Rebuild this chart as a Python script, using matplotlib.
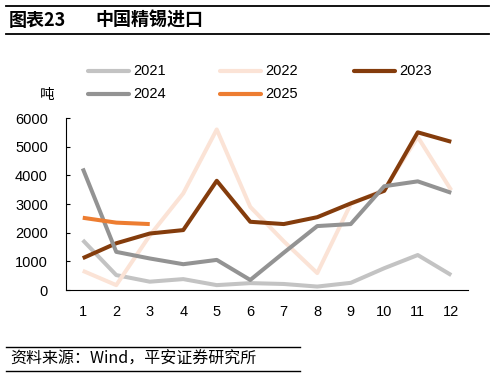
import numpy as np
import matplotlib
matplotlib.use('Agg')
import matplotlib.pyplot as plt
from matplotlib.lines import Line2D

plt.rcParams['font.family'] = ['Liberation Sans', 'Noto Sans CJK SC', 'DejaVu Sans']
cjk = ['Noto Sans CJK SC', 'DejaVu Sans']

months = np.arange(1, 13)
y2021 = [1740, 520, 290, 380, 170, 240, 210, 120, 250, 760, 1220, 520]
y2022 = [670, 170, 1900, 3370, 5600, 2900, 1700, 590, 3000, 3500, 5340, 3480]
y2023 = [1110, 1630, 1970, 2090, 3810, 2380, 2300, 2540, 3020, 3460, 5500, 5170]
y2024 = [4240, 1330, 1100, 900, 1050, 350, 1300, 2230, 2300, 3620, 3790, 3390]
y2025 = [2520, 2350, 2300]

series = [
    ('2021', y2021, '#C3C3C3'),
    ('2022', y2022, '#FBE3D6'),
    ('2023', y2023, '#843C0C'),
    ('2024', y2024, '#939393'),
    ('2025', y2025, '#ED7D31'),
]

fig = plt.figure(figsize=(4.95, 3.77), dpi=100)
ax = fig.add_axes([66/495, 1-290/377, (468-66)/495, (290-118)/377])

for name, vals, col in series:
    ax.plot(months[:len(vals)], vals, color=col, lw=2.9, solid_capstyle='butt')

ax.set_xlim(0.5, 12.5)
ax.set_ylim(0, 6000)
ax.set_xticks(months)
ax.set_yticks(np.arange(0, 6001, 1000))
ax.tick_params(axis='x', labelsize=10.5, length=0, pad=11)
ax.tick_params(axis='y', labelsize=10.5, direction='in', length=3, pad=13)
for s in ['top', 'right']:
    ax.spines[s].set_visible(False)

# legend drawn by hand in figure coords
leg_pos = [(88, 71), (220, 71), (354, 71), (88, 94), (220, 94)]
for (name, vals, col), (lx, ly) in zip(series, leg_pos):
    fig.add_artist(Line2D([lx/495, (lx+41)/495], [1-ly/377, 1-ly/377], color=col, lw=3.0,
                          solid_capstyle='round'))
    fig.text((lx+45)/495, 1-ly/377, name, fontsize=10.5, va='center', ha='left')

fig.text(40/495, 1-95/377, '吨', fontsize=10.5, va='center', ha='left', family=cjk)

# header
fig.add_artist(Line2D([6/495, 489/495], [1-6/377, 1-6/377], color='black', lw=1.3))
fig.add_artist(Line2D([6/495, 489/495], [1-34/377, 1-34/377], color='black', lw=1.3))
fig.text(9/495, 1-20/377, '图表23', fontsize=13, fontweight='bold', va='center', ha='left',
         family=cjk)
fig.text(95/495, 1-20/377, '中国精锡进口', fontsize=13, fontweight='bold', va='center', ha='left',
         family=cjk)

# footer
fig.add_artist(Line2D([6/495, 300/495], [1-347/377, 1-347/377], color='black', lw=1.0))
fig.add_artist(Line2D([6/495, 300/495], [1-371/377, 1-371/377], color='black', lw=1.0))
fig.text(10/495, 1-359/377, '资料来源：Wind，平安证券研究所', fontsize=11.5, style='italic',
         va='center', ha='left', family=cjk)

plt.savefig('out.png', dpi=100)
